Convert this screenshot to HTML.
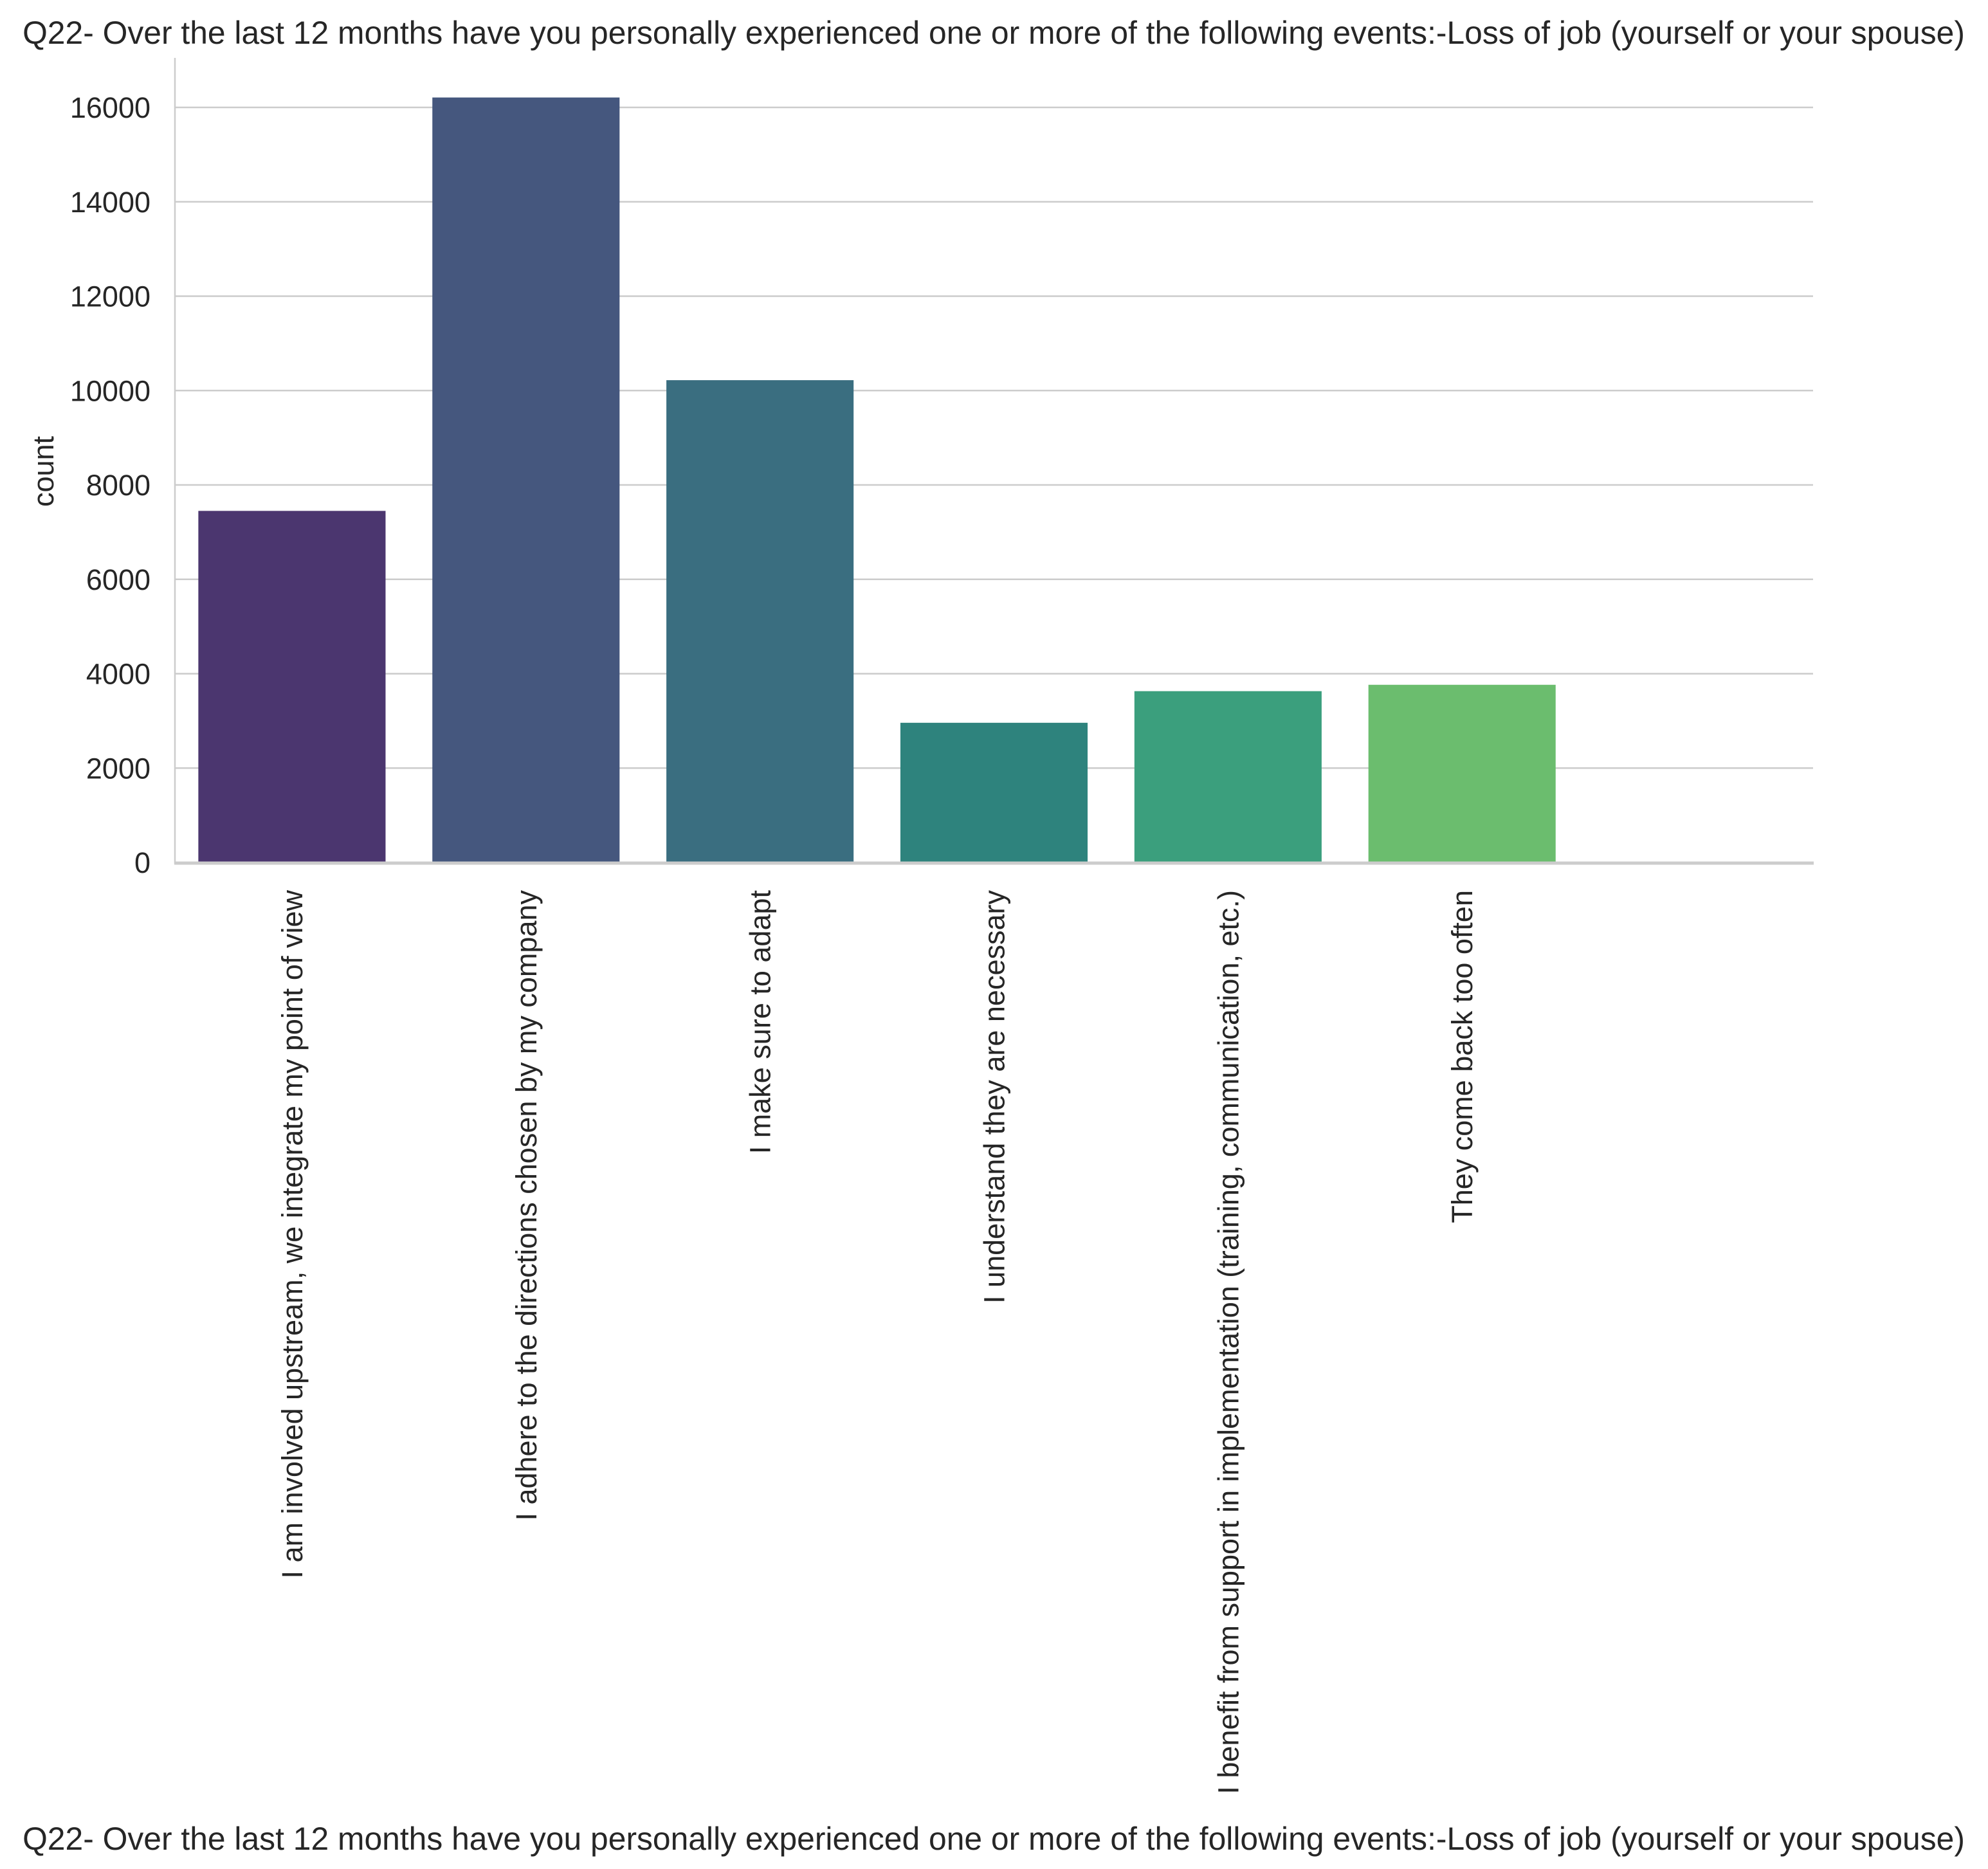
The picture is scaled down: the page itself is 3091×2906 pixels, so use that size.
<!DOCTYPE html>
<html><head><meta charset="utf-8">
<style>
html,body{margin:0;padding:0;background:#fff;}
svg{display:block;font-family:"Liberation Sans",Arial,sans-serif;}
</style></head>
<body>
<svg id="chart" width="3091" height="2906" viewBox="0 0 3091 2906" xmlns="http://www.w3.org/2000/svg">
<text x="1545" y="68" text-anchor="middle" font-size="49.8" fill="#262626">Q22- Over the last 12 months have you personally experienced one or more of the following events:-Loss of job (yourself or your spouse)</text>
<g id="grid"></g>
<g id="bars"></g>
<g id="yticks"></g>
<g id="xticks"></g>
<line x1="272" y1="90" x2="272" y2="1343" stroke="#cccccc" stroke-width="2.5"/>
<line x1="271" y1="1342" x2="2820" y2="1342" stroke="#cccccc" stroke-width="5"/>
<text transform="translate(83,733) rotate(-90)" text-anchor="middle" font-size="45" fill="#262626">count</text>
<text x="1545" y="2876" text-anchor="middle" font-size="49.8" fill="#262626">Q22- Over the last 12 months have you personally experienced one or more of the following events:-Loss of job (yourself or your spouse)</text>
</svg>
<script>
const categories = ["I am involved upstream, we integrate my point of view","I adhere to the directions chosen by my company","I make sure to adapt","I understand they are necessary","I benefit from support in implementation (training, communication, etc.)","They come back too often",""];
const counts = [7450, 16210, 10220, 2960, 3630, 3765, 0];
const colors = ["#4b366f","#45577e","#3a6e80","#2e837d","#3b9f7d","#6bbd6e","#a8db34"];
const yTicks = [0,2000,4000,6000,8000,10000,12000,14000,16000];

const NS="http://www.w3.org/2000/svg";
const x0=272, x1=2819, yBase=1341, yTop=167, vTop=16000;
const band=(x1-x0)/categories.length;
function yScale(v){return yBase-(v/vTop)*(yBase-yTop);}
function xCenter(i){return x0+band*(i+0.5);}
function mk(tag,attrs){const e=document.createElementNS(NS,tag);for(const k in attrs)e.setAttribute(k,attrs[k]);return e;}

const grid=document.getElementById('grid'), yt=document.getElementById('yticks');
yTicks.forEach(t=>{
  const y=yScale(t);
  const l=mk('line',{x1:x0,x2:x1,y1:y,y2:y,stroke:'#cccccc','stroke-width':2.5});
  
  
  grid.appendChild(l);
  const tx=mk('text',{x:234,y:y+16,'text-anchor':'end','font-size':45,fill:'#262626'});
  tx.textContent=t;
  
  
  yt.appendChild(tx);
});
const bars=document.getElementById('bars'), xt=document.getElementById('xticks');
categories.forEach((c,i)=>{
  const w=band*0.8, cx=xCenter(i), y=yScale(counts[i]);
  const r=mk('rect',{x:cx-w/2,y:y,width:w,height:yBase-y,fill:colors[i]});
  
  
  bars.appendChild(r);
  if(c){
    const t=mk('text',{transform:`translate(${cx+16},1384) rotate(-90)`,'text-anchor':'end','font-size':45,fill:'#262626'});
    t.textContent=c;
    
    
    xt.appendChild(t);
  }
});
</script>
</body></html>
